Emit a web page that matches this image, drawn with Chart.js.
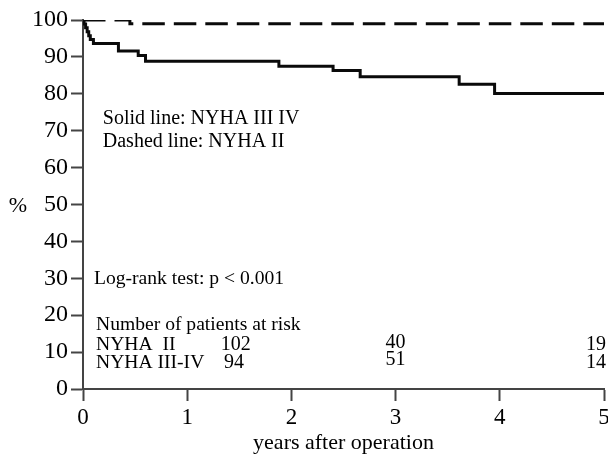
<!DOCTYPE html>
<html><head><meta charset="utf-8">
<style>html,body{margin:0;padding:0;background:#fff;overflow:hidden;width:608px;height:456px}canvas{display:block}</style>
<script src="https://cdn.jsdelivr.net/npm/chart.js@4/dist/chart.umd.min.js"></script>
</head><body>
<canvas id="c" width="616" height="456"></canvas>
<script>
// Kaplan-Meier survival data (years, %)
const timesNyhaIIIIV = [0, 0.01, 0.025, 0.04, 0.055, 0.07, 0.10, 0.34, 0.53, 0.60, 1.88, 2.40, 2.66, 3.61, 3.95, 5.0];
const survNyhaIIIIV  = [100, 98.9, 97.9, 96.8, 95.7, 94.7, 93.6, 91.6, 90.4, 88.8, 87.5, 86.3, 84.6, 82.6, 80.1, 80.1];
const timesNyhaII = [0, 0.45, 5.0];
const survNyhaII  = [100, 99.0, 99.0];
const xTickLabels = ['0', '1', '2', '3', '4', '5'];
const yTickLabels = ['0', '10', '20', '30', '40', '50', '60', '70', '80', '90', '100'];
const riskGroups = ['NYHA  II', 'NYHA III-IV'];
const riskNyhaII = ['102', '40', '19'];
const riskNyhaIIIIV = ['94', '51', '14'];
const legendLines = ['Solid line: NYHA III IV', 'Dashed line: NYHA II'];
const testText = 'Log-rank test: p < 0.001';
const riskTitle = 'Number of patients at risk';

const SERIF = '"Liberation Serif", "Times New Roman", Times, serif';

const annot = {
  id: 'annot',
  afterDraw(chart) {
    const {ctx, scales: {x, y}, chartArea} = chart;
    const X = v => x.getPixelForValue(v), Y = v => y.getPixelForValue(v);
    ctx.save();
    ctx.fillStyle = '#000';
    ctx.textBaseline = 'middle';
    ctx.font = '22px ' + SERIF;
    ctx.textAlign = 'center';
    ctx.fillText('%', chartArea.left - 65, Y(49.5));
    ctx.font = '20px ' + SERIF;
    ctx.textAlign = 'left';
    ctx.fillText(legendLines[0], X(0.19), Y(73.2));
    ctx.fillText(legendLines[1], X(0.19), Y(67.1));
    ctx.font = '19.6px ' + SERIF;
    ctx.fillText(testText, X(0.105), Y(29.8));
    ctx.fillText(riskTitle, X(0.125), Y(17.3));
    ctx.fillText(riskGroups[0], X(0.125), Y(12.0));
    ctx.fillText(riskGroups[1], X(0.125), Y(7.1));
    ctx.font = '20px ' + SERIF;
    ctx.textAlign = 'center';
    ctx.fillText(riskNyhaII[0], X(1.465), Y(12.0));
    ctx.fillText(riskNyhaIIIIV[0], X(1.45), Y(7.1));
    ctx.fillText(riskNyhaII[1], X(3.0), Y(12.6));
    ctx.fillText(riskNyhaIIIIV[1], X(3.0), Y(7.8));
    ctx.textAlign = 'right';
    ctx.fillText(riskNyhaII[2], X(5.02), Y(12.0));
    ctx.fillText(riskNyhaIIIIV[2], X(5.02), Y(7.0));
    ctx.restore();
  }
};

const toPts = (xs, ys) => xs.map((t, i) => ({x: t, y: ys[i]}));

new Chart(document.getElementById('c'), {
  type: 'line',
  data: {
    datasets: [
      {
        label: 'NYHA III-IV',
        data: toPts(timesNyhaIIIIV, survNyhaIIIIV),
        stepped: 'before',
        borderColor: '#0a0a0a',
        borderWidth: 3,
        pointRadius: 0,
        fill: false
      },
      {
        label: 'NYHA II',
        data: toPts(timesNyhaII, survNyhaII),
        stepped: 'before',
        borderColor: '#0a0a0a',
        borderWidth: 3,
        borderDash: [22.5, 9],
        pointRadius: 0,
        fill: false
      }
    ]
  },
  options: {
    responsive: false,
    animation: false,
    layout: {padding: {top: 20, right: 12, left: 0, bottom: 0}},
    plugins: {legend: {display: false}, tooltip: {enabled: false}},
    scales: {
      x: {
        type: 'linear', min: 0, max: 5,
        afterFit(s) { s.height = 67; },
        ticks: {stepSize: 1, color: '#000', padding: 3, font: {family: SERIF, size: 23},
          callback: v => xTickLabels[v]},
        grid: {drawOnChartArea: false, drawTicks: true, tickLength: 12, tickColor: '#444', tickWidth: 2},
        border: {display: true, color: '#444', width: 2},
        title: {display: true, text: 'years after operation', color: '#000', font: {family: SERIF, size: 22}, padding: {top: 0, bottom: 0}}
      },
      y: {
        type: 'linear', min: 0, max: 100,
        afterFit(s) { s.width = 83; },
        ticks: {stepSize: 10, color: '#000', padding: 3, font: {family: SERIF, size: 24},
          callback: v => yTickLabels[v / 10]},
        grid: {drawOnChartArea: false, drawTicks: true, tickLength: 12, tickColor: '#444', tickWidth: 2},
        border: {display: true, color: '#444', width: 2}
      }
    }
  },
  plugins: [annot]
});
</script>
</body></html>
